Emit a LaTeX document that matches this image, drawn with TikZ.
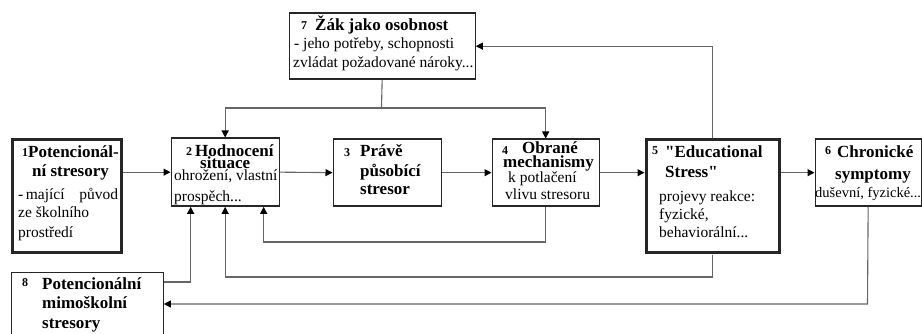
\documentclass[tikz,border=0pt]{standalone}
\usepackage{fontspec}
\setmainfont{Liberation Serif}[Ligatures=TeXOff]
\usetikzlibrary{arrows.meta,calc}
\begin{document}
\begin{tikzpicture}[x=1pt,y=-1pt,
  box/.style={draw=black!85,line width=1.3pt,inner sep=0pt,anchor=north west,rectangle},
  heavybox/.style={box,line width=3pt},
  conn/.style={draw=black!60,line width=1.1pt},
  arr/.style={conn,-{Triangle[length=7pt,width=7pt,color=black]}},
  ttl/.style={anchor=base west,inner sep=0pt,font=\fontsize{17}{19}\selectfont\bfseries},
  txt/.style={anchor=base west,inner sep=0pt,font=\fontsize{15.5}{19}\selectfont},
  num/.style={anchor=base west,inner sep=0pt,font=\fontsize{12}{14}\selectfont\bfseries}]
\useasboundingbox (0,0) rectangle (922,334);
\clip (0,0) rectangle (922,334);
% boxes
\node[heavybox,minimum width=109pt,minimum height=113pt] (b1) at (10.5,138.5) {};
\node[box,minimum width=108pt,minimum height=68pt] (b2) at (170.5,137.5) {};
\node[box,minimum width=108pt,minimum height=67pt] (b3) at (332.5,138.5) {};
\node[box,minimum width=107pt,minimum height=67pt] (b4) at (491.5,138.5) {};
\node[heavybox,minimum width=133pt,minimum height=113pt] (b5) at (644.5,138.5) {};
\node[box,minimum width=106pt,minimum height=67pt] (b6) at (814.5,138.5) {};
\node[box,minimum width=186pt,minimum height=66pt] (b7) at (288.5,12.5) {};
\node[box,minimum width=152pt,minimum height=80pt] (b8) at (10.5,271.5) {};
% texts box 1
\node[num] (n1) at (22,157) {1};
\node[ttl] (t1a) at (28,158) {Potencionál-};
\node[ttl] (t1b) at (32,177) {ní stresory};
\node[txt] (t1c) at (18,200) {\makebox[99pt][s]{- mající\hspace{12pt} původ}};
\node[txt] (t1d) at (18,218) {ze školního};
\node[txt] (t1e) at (18,237) {prostředí};
% box 2
\node[num] (n2) at (186,156) {2};
\node[ttl] (t2a) at (195,157) {Hodnocení};
\node[ttl] (t2b) at (200,169) {situace};
\node[txt] (t2c) at (174,181) {ohrožení, vlastní};
\node[txt] (t2d) at (174,202) {prospěch...};
% box 3
\node[num] (n3) at (344,157) {3};
\node[ttl] (t3a) at (360,157) {Právě};
\node[ttl] (t3b) at (360,177) {působící};
\node[ttl] (t3c) at (360,195) {stresor};
% box 4
\node[num] (n4) at (502,155) {4};
\node[ttl] (t4a) at (522,154) {Obrané};
\node[ttl] (t4b) at (503,168) {mechanismy};
\node[txt] (t4c) at (508,183) {k potlačení};
\node[txt] (t4d) at (505,200) {vlivu stresoru};
% box 5
\node[num] (n5) at (652,155) {5};
\node[ttl] (t5a) at (665,158) {"Educational};
\node[ttl] (t5b) at (665,178) {Stress"};
\node[txt] (t5c) at (659,202) {projevy reakce:};
\node[txt] (t5d) at (659,219) {fyzické,};
\node[txt] (t5e) at (659,237) {behaviorální...};
% box 6
\node[num] (n6) at (825,155) {6};
\node[ttl] (t6a) at (837,158) {Chronické};
\node[ttl] (t6b) at (835,180) {symptomy};
\node[txt,font=\fontsize{14.5}{17}\selectfont] (t6c) at (815,198) {duševní, fyzické...};
% box 7
\node[num] (n7) at (301,30) {7};
\node[ttl] (t7a) at (315,31) {Žák jako osobnost};
\node[txt] (t7b) at (294,49) {- jeho potřeby, schopnosti};
\node[txt] (t7c) at (293,68) {zvládat požadované nároky...};
% box 8
\node[num] (n8) at (22,287) {8};
\node[ttl] (t8a) at (42,290) {Potencionální};
\node[ttl] (t8b) at (42,308) {mimoškolní};
\node[ttl] (t8c) at (42,328) {stresory};
% connectors
\draw[arr] (b1.east |- b2.west) -- (b2.west);
\draw[arr] (b2.east) -- (b3.west);
\draw[arr] (b3.east) -- (b4.west);
\draw[arr] (b4.east) -- (b4.east -| b5.west);
\draw[arr] (b5.east |- b6.west) -- (b6.west);
\coordinate (j7) at (381.5,108);
\draw[conn] (b7.south) -- (j7);
\draw[arr] (j7) -| (b2.north);
\draw[arr] (j7) -| (b4.north);
\draw[arr] (b5.north) |- (b7.east);
\coordinate (k4) at (545,242);
\draw[arr] (b4.south) -- (b4.south |- k4) -| ($(b2.south)+(38.5,0)$);
\coordinate (k5) at (711,277);
\draw[arr] (b5.south) -- (b5.south |- k5) -| (b2.south);
\draw[arr] ($(b8.north east)+(0,10.5)$) -| ($(b2.south)+(-34.5,0)$);
\coordinate (k6) at (867.5,304);
\draw[arr] (b6.south) -- (k6) -- ($(b8.north east)+(0,32.5)$);
\end{tikzpicture}
\end{document}
